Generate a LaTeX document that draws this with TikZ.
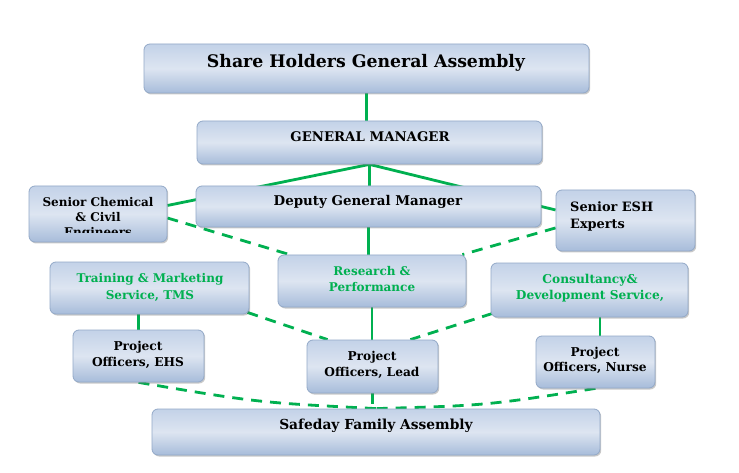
\documentclass[tikz,border=0pt]{standalone}
\usepackage{fontspec}
\setmainfont{DejaVu Serif}
\usetikzlibrary{shadows,calc}
\definecolor{grn}{HTML}{00B050}
\definecolor{bxtop}{HTML}{C3D2E8}
\definecolor{bxmid}{HTML}{DDE5F1}
\definecolor{bxbot}{HTML}{A7BCDA}
\definecolor{bxline}{HTML}{93A9C8}
\pgfdeclarelayer{bg}\pgfsetlayers{bg,main}
\begin{document}
\begin{tikzpicture}[x=1pt,y=-1pt,
 box/.style={draw=bxline, line width=0.8pt, rounded corners=6pt, top color=bxtop, bottom color=bxbot, middle color=bxmid, drop shadow={shadow xshift=1.2pt, shadow yshift=-1.5pt, opacity=0.35, fill=black!60}, inner sep=0pt},
 solidc/.style={draw=grn, line width=2.8pt},
 dashc/.style={draw=grn, line width=2.8pt, dash pattern=on 11pt off 8pt},
 txt/.style={font=\bfseries\fontsize{12}{15}\selectfont, align=center, inner sep=0pt},
 gtxt/.style={txt, text=grn, font=\bfseries\fontsize{12}{17}\selectfont},
]
\begin{pgfonlayer}{bg}
\fill[white] (0,0) rectangle (739,473);
\end{pgfonlayer}
\useasboundingbox (0,0) rectangle (739,473);

% boxes
\node[box, minimum width=445pt, minimum height=49pt] (sh) at (366.5,68.5) {};
\node[box, minimum width=345pt, minimum height=43pt] (gm) at (369.5,142.5) {};
\node[box, minimum width=345pt, minimum height=41pt] (dgm) at (368.5,206.5) {};
\node[box, minimum width=138pt, minimum height=56pt] (scc) at (98,214) {};
\node[box, minimum width=139pt, minimum height=61pt] (esh) at (625.5,220.5) {};
\node[box, minimum width=199pt, minimum height=52pt] (tms) at (149.5,288) {};
\node[box, minimum width=188pt, minimum height=52pt] (rp) at (372,281) {};
\node[box, minimum width=197pt, minimum height=54pt] (cds) at (589.5,290) {};
\node[box, minimum width=131pt, minimum height=52pt] (ehs) at (138.5,356) {};
\node[box, minimum width=131pt, minimum height=53pt] (lead) at (372.5,366.5) {};
\node[box, minimum width=119pt, minimum height=52pt] (nurse) at (595.5,362) {};
\node[box, minimum width=448pt, minimum height=46pt] (sfa) at (376,432) {};

% texts
\node[txt, font=\bfseries\fontsize{17.3}{20}\selectfont] (sht) at (366,63) {Share Holders General Assembly};
\node[txt, font=\bfseries\fontsize{13.3}{15}\selectfont] (gmt) at (370,137) {GENERAL MANAGER};
\node[txt, font=\bfseries\fontsize{13.4}{15}\selectfont] (dgmt) at (368,202) {Deputy General Manager};
\begin{scope}
\clip (29,186) rectangle (167,233);
\node[txt] (scct) at (98,218.5) {Senior Chemical\\\& Civil\\Engineers};
\end{scope}
\node[txt, font=\bfseries\fontsize{12.9}{17}\selectfont, align=left, anchor=west] (esht) at (570,216.5) {Senior ESH\\Experts};
\node[gtxt] (tmst) at (150,287.5) {Training \& Marketing\\Service, TMS};
\node[gtxt, font=\bfseries\fontsize{12}{16}\selectfont] (rpt) at (372,279) {Research \&\\Performance};
\node[gtxt, font=\bfseries\fontsize{12.2}{16}\selectfont] (cdst) at (590,288) {Consultancy\&\\Development Service,};
\node[txt, font=\bfseries\fontsize{12.2}{16}\selectfont] (ehst) at (138,355) {Project\\Officers, EHS};
\node[txt, font=\bfseries\fontsize{12.2}{16}\selectfont] (leadt) at (372,365) {Project\\Officers, Lead};
\node[txt, font=\bfseries\fontsize{12.2}{15}\selectfont] (nurset) at (595,360.5) {Project\\Officers, Nurse};
\node[txt, font=\bfseries\fontsize{13.8}{15}\selectfont] (sfat) at (376,426) {Safeday Family Assembly};

% connectors
\begin{pgfonlayer}{bg}
\draw[solidc] (sh.south) -- (sh.south |- gm.north);
\draw[solidc] (gm.south) -- (gm.south |- dgm.north);
\draw[solidc] (gm.south) -- ($(scc.north east)!0.35!(scc.south east)$);
\draw[solidc] (gm.south) -- ($(esh.north west)!0.33!(esh.south west)$);
\draw[solidc] (dgm.south) -- (dgm.south |- rp.north);
\draw[dashc] ($(scc.north east)!0.57!(scc.south east)$) -- ($(rp.north west)+(12,0)$);
\draw[dashc] ($(esh.north west)!0.62!(esh.south west)$) -- ($(rp.north east)+(-4,0)$);
\draw[solidc] (rp.south) -- (rp.south |- lead.north);
\draw[dashc] ($(tms.south east)+(-2,-2)$) -- ($(lead.north west)+(21,0)$);
\draw[dashc] ($(cds.south west)+(2,-4)$) -- ($(lead.north east)+(-28,0)$);
\draw[solidc] (tms.south -| ehs.north) -- (ehs.north);
\draw[solidc] (cds.south -| 600,0) -- (nurse.north -| 600,0);
\draw[dashc] (lead.south) -- (lead.south |- sfa.north);
\draw[dashc] (ehs.south) .. controls ($(ehs.south)!0.5!(sfa.north)+(0,7)$) .. (sfa.north);
\draw[dashc] (nurse.south) .. controls ($(nurse.south)!0.5!(sfa.north)+(0,7)$) .. (sfa.north);
\end{pgfonlayer}
\end{tikzpicture}
\end{document}
